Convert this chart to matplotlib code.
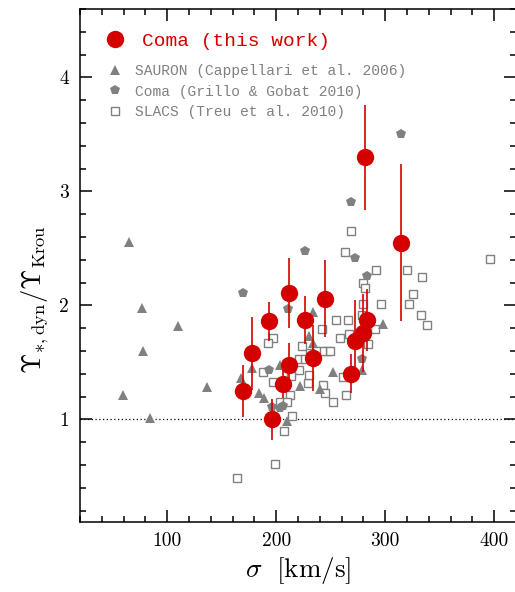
import numpy as np
import matplotlib
matplotlib.use("Agg")
import matplotlib.pyplot as plt
from matplotlib.lines import Line2D
from matplotlib.ticker import MultipleLocator

plt.rcParams['font.family'] = 'serif'
plt.rcParams['font.serif'] = ['cmr10']
plt.rcParams['mathtext.fontset'] = 'cm'
plt.rcParams['axes.unicode_minus'] = False

# Coma, this work: sigma, Upsilon ratio and symmetric error
coma_sigma = [169.4, 177.7, 193.4, 196.0, 211.4, 211.7, 205.9, 226.1,
              244.4, 233.4, 268.5, 272.0, 279.4, 283.6, 281.5, 314.8]
coma_ups = [1.25, 1.58, 1.86, 1.00, 2.11, 1.48, 1.31, 1.87,
            2.06, 1.54, 1.40, 1.69, 1.76, 1.87, 3.30, 2.55]
coma_err = [0.23, 0.32, 0.17, 0.18, 0.31, 0.19, 0.12, 0.21,
            0.34, 0.29, 0.17, 0.36, 0.34, 0.27, 0.46, 0.69]

# SAURON (Cappellari et al. 2006)
sauron_sigma = [64.9, 76.8, 77.7, 83.8, 110.2, 59.4, 136.2, 167.6, 178.0, 184.5,
                189.0, 210.0, 221.7, 230.3, 234.0, 233.7, 240.1, 251.7, 298.2,
                278.3, 203.4]
sauron_ups = [2.56, 1.98, 1.60, 1.01, 1.82, 1.21, 1.28, 1.36, 1.45, 1.23,
              1.19, 0.985, 1.29, 1.73, 1.67, 1.94, 1.27, 1.42, 1.84,
              1.43, 1.48]

# Coma (Grillo & Gobat 2010)
gg_sigma = [314.4, 268.3, 226.0, 272.0, 283.6, 211.0, 169.7, 193.3,
            195.8, 206.4, 203.5, 279.0]
gg_ups = [3.50, 2.91, 2.48, 2.42, 2.26, 1.97, 2.11, 1.43,
          1.11, 1.12, 1.10, 1.53]

# SLACS (Treu et al. 2010)
slacs_sigma = [163.7, 198.8, 206.8, 214.1, 251.7, 263.9, 242.6, 244.7, 261.5,
               246.2, 249.3, 258.4, 254.8, 266.1, 241.9, 266.7, 279.3, 279.3,
               281.1, 290.6, 296.1, 291.7, 319.9, 333.9, 395.8, 325.7, 322.0,
               332.8, 338.0, 268.8, 263.0, 278.9, 197.2, 192.4, 223.3, 188.1,
               196.7, 212.6, 203.4, 210.1, 229.4, 221.1, 230.3, 213.2, 241.7,
               236.4, 230.9, 221.1, 226.3, 283.9]
slacs_ups = [0.49, 0.61, 0.90, 1.03, 1.15, 1.21, 1.30, 1.23, 1.37,
             1.60, 1.60, 1.71, 1.87, 1.87, 1.79, 1.75, 2.01, 2.20,
             2.15, 1.79, 2.01, 2.31, 2.31, 2.25, 2.41, 2.10, 2.01,
             1.92, 1.83, 2.65, 2.47, 1.92, 1.71, 1.67, 1.64, 1.42,
             1.33, 1.21, 1.15, 1.15, 1.32, 1.43, 1.39, 1.38, 1.60,
             1.60, 1.58, 1.53, 1.53, 1.66]

red = '#d40000'
grey = '#808080'

fig = plt.figure(figsize=(5.15, 5.92), dpi=100)
ax = fig.add_axes([80 / 515, 70 / 592, 436 / 515, 513 / 592])

ax.axhline(1.0, color='black', linestyle=(0, (1, 2)), linewidth=0.9, zorder=1)

ax.plot(slacs_sigma, slacs_ups, linestyle='none', marker='s', markersize=6,
        markerfacecolor='white', markeredgecolor=grey, markeredgewidth=1.0, zorder=2)
ax.plot(sauron_sigma, sauron_ups, linestyle='none', marker='^', markersize=6.5,
        color=grey, markeredgewidth=0, zorder=3)
ax.plot(gg_sigma, gg_ups, linestyle='none', marker='p', markersize=7.5,
        color=grey, markeredgewidth=0, zorder=3)
ax.errorbar(coma_sigma, coma_ups, yerr=coma_err, fmt='none', ecolor=red,
            elinewidth=1.2, capsize=0, zorder=4)
ax.plot(coma_sigma, coma_ups, linestyle='none', marker='o', markersize=12.5,
        color=red, markeredgewidth=0, zorder=5)

ax.set_xlim(20, 420)
ax.set_ylim(0.1, 4.6)
ax.xaxis.set_major_locator(MultipleLocator(100))
ax.xaxis.set_minor_locator(MultipleLocator(20))
ax.yaxis.set_major_locator(MultipleLocator(1))
ax.yaxis.set_minor_locator(MultipleLocator(0.2))
ax.tick_params(which='both', direction='in', top=True, right=True, width=1.1)
ax.tick_params(which='major', length=8.5, labelsize=14, pad=7)
ax.tick_params(which='minor', length=4.5)
ax.tick_params(axis='y', which='major', pad=8)
for sp in ax.spines.values():
    sp.set_linewidth(1.1)

ax.set_xlabel(r'$\sigma\ \ [\mathrm{km/s}]$', fontsize=19.5, labelpad=4)
fig.text(35 / 515, 1 - 300 / 592,
         r'$\Upsilon_{*,\mathrm{dyn}}/\Upsilon_{\mathrm{Krou}}$',
         rotation=90, fontsize=19, ha='center', va='center')

# legend: this work on its own line, comparison samples below
red_handle = Line2D([], [], linestyle='none', marker='o', markersize=12.5,
                    color=red, markeredgewidth=0)
leg1 = ax.legend([red_handle], ['Coma (this work)'], loc='center left',
                 frameon=False, prop={'family': 'Liberation Mono', 'size': 14},
                 handlelength=1.0, handletextpad=0.89, borderpad=0.0,
                 borderaxespad=0.0, bbox_to_anchor=(0.058, 0.938))
leg1.get_texts()[0].set_color(red)
ax.add_artist(leg1)

grey_handles = [
    Line2D([], [], linestyle='none', marker='^', markersize=6.5, color=grey,
           markeredgewidth=0),
    Line2D([], [], linestyle='none', marker='p', markersize=7.5, color=grey,
           markeredgewidth=0),
    Line2D([], [], linestyle='none', marker='s', markersize=6,
           markerfacecolor='white', markeredgecolor=grey, markeredgewidth=1.0),
]
grey_labels = ['SAURON (Cappellari et al. 2006)',
               'Coma (Grillo & Gobat 2010)', 'SLACS (Treu et al. 2010)']
leg2 = ax.legend(grey_handles, grey_labels, loc='center left', frameon=False,
                 prop={'family': 'Liberation Mono', 'size': 10.5},
                 handlelength=1.0, handletextpad=0.87, labelspacing=0.47,
                 borderpad=0.0, borderaxespad=0.0,
                 bbox_to_anchor=(0.0635, 0.839))
for t in leg2.get_texts():
    t.set_color(grey)

fig.savefig('out.png', dpi=100)
